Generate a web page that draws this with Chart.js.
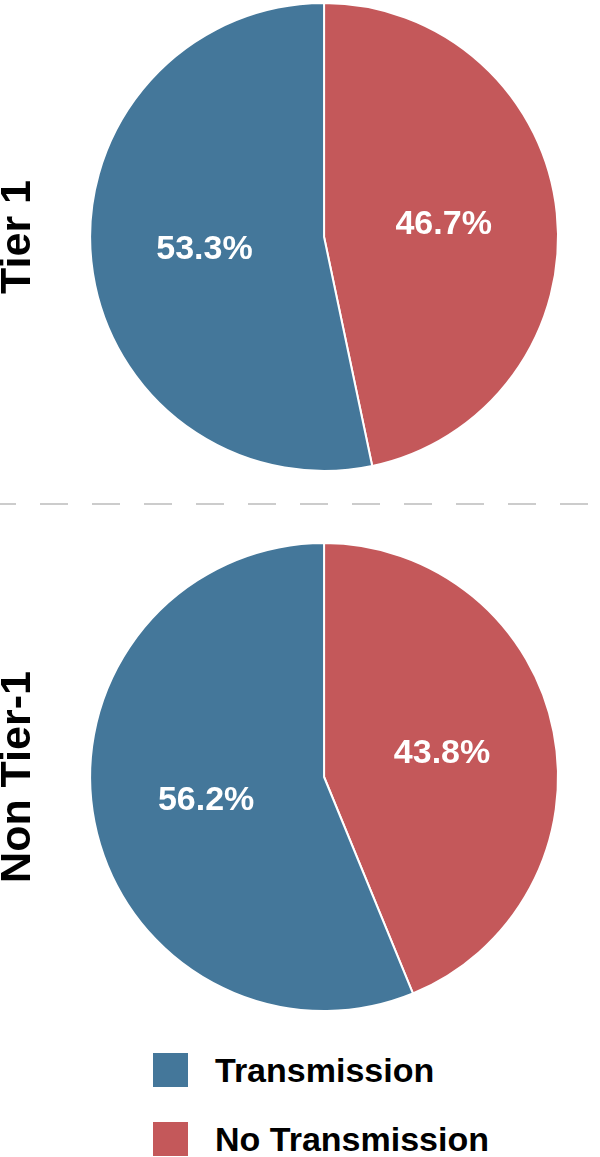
<!DOCTYPE html>
<html>
<head>
<meta charset="utf-8">
<script src="https://cdn.jsdelivr.net/npm/chart.js@4"></script>
<style>
  body { margin: 0; background: #fff; }
  #page { position: relative; width: 600px; height: 1157px; overflow: hidden; background: #fff;
          font-family: "Liberation Sans", Arial, sans-serif; }
  .pie { position: absolute; left: 0; }
  #divider { position: absolute; left: 0; top: 503px; width: 600px; height: 2px;
             background: repeating-linear-gradient(90deg, #cccccc 0 16px, transparent 16px 40px, #cccccc 40px 52px); }
  #legend { position: absolute; left: 153px; top: 1053px; }
  .item { display: flex; align-items: center; height: 34px; margin-bottom: 35px; }
  .swatch { width: 35px; height: 34px; margin-right: 27px; }
  .item span { font-weight: bold; font-size: 34px; color: #000; line-height: 34px; }
</style>
</head>
<body>
<div id="page">
  <canvas id="tier1" class="pie" width="600" height="474" style="top:0px"></canvas>
  <div id="divider"></div>
  <canvas id="nonTier1" class="pie" width="600" height="474" style="top:540px"></canvas>
  <div id="legend"></div>
</div>
<script>
// data
const categories = ['Transmission', 'No Transmission'];
const colors = ['#44779a', '#c4585a'];
const panels = ['Tier 1', 'Non Tier-1'];
const tier1Values = [53.3, 46.7];
const nonTier1Values = [56.2, 43.8];

// label each slice with its percentage, white bold text inside the slice
const sliceLabels = {
    id: 'sliceLabels',
    afterDatasetsDraw(chart) {
        const ctx = chart.ctx;
        const meta = chart.getDatasetMeta(0);
        const values = chart.data.datasets[0].data;
        ctx.save();
        ctx.font = 'bold 34px "Liberation Sans", Arial, sans-serif';
        ctx.fillStyle = '#ffffff';
        ctx.textAlign = 'center';
        ctx.textBaseline = 'middle';
        meta.data.forEach((arc, i) => {
            const p = arc.getProps(['x', 'y', 'startAngle', 'endAngle', 'outerRadius'], true);
            const mid = (p.startAngle + p.endAngle) / 2;
            const r = p.outerRadius * 0.514;
            ctx.fillText(values[i].toFixed(1) + '%', p.x + Math.cos(mid) * r, p.y + Math.sin(mid) * r);
        });
        ctx.restore();
    }
};

function makePie(canvasId, title, values) {
    // slices go clockwise from 12 o'clock, No Transmission first
    const order = [1, 0];
    return new Chart(document.getElementById(canvasId), {
        type: 'pie',
        data: {
            labels: order.map(i => categories[i]),
            datasets: [{
                data: order.map(i => values[i]),
                backgroundColor: order.map(i => colors[i]),
                borderColor: '#ffffff',
                borderWidth: 2
            }]
        },
        options: {
            responsive: false,
            animation: false,
            layout: { padding: { top: 2, bottom: 2, left: 0, right: 41 } },
            plugins: {
                legend: { display: false },
                tooltip: { enabled: false },
                title: {
                    display: true,
                    text: title,
                    position: 'left',
                    color: '#000000',
                    font: { family: '"Liberation Sans", Arial, sans-serif', size: 43, weight: 'bold', lineHeight: 0.84 },
                    padding: { top: 0, bottom: 53 }
                }
            }
        },
        plugins: [sliceLabels]
    });
}

const chart1 = makePie('tier1', panels[0], tier1Values);
const chart2 = makePie('nonTier1', panels[1], nonTier1Values);

// legend built from the chart's own legend items, Transmission first
const legendItems = chart2.options.plugins.legend.labels.generateLabels(chart2).slice().reverse();
const legendDiv = document.getElementById('legend');
legendItems.forEach(item => {
    const row = document.createElement('div');
    row.className = 'item';
    const sw = document.createElement('div');
    sw.className = 'swatch';
    sw.style.background = item.fillStyle;
    const label = document.createElement('span');
    label.textContent = item.text;
    row.appendChild(sw);
    row.appendChild(label);
    legendDiv.appendChild(row);
});
</script>
</body>
</html>
